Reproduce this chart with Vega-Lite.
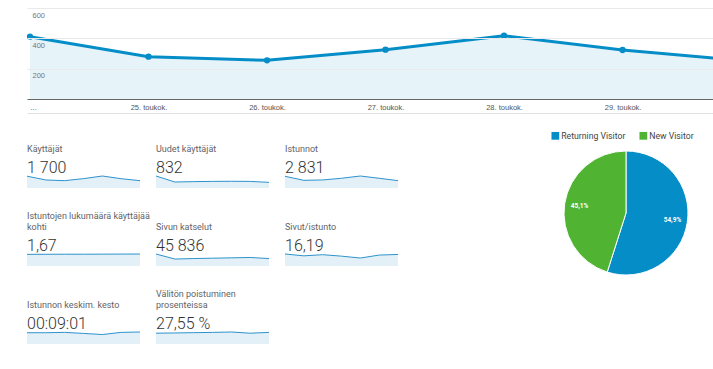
{
  "$schema": "https://vega.github.io/schema/vega-lite/v6.json",
  "padding": {"left": 25, "top": 8, "right": 0, "bottom": 0},
  "background": "#ffffff",
  "config": {
    "view": {"stroke": null},
    "font": "Roboto",
    "title": {"anchor": "start", "frame": "group", "font": "Roboto", "fontSize": 9, "fontWeight": "normal", "color": "#5f6368", "lineHeight": 11.5, "offset": -2, "subtitleFont": "Roboto", "subtitleFontSize": 16, "subtitleFontWeight": 300, "subtitleColor": "#333333", "subtitlePadding": 6}
  },
  "datasets": {
    "spark": [
      {"m": "users", "d": 24, "v": 411}, {"m": "users", "d": 25, "v": 279}, {"m": "users", "d": 26, "v": 255}, {"m": "users", "d": 27, "v": 325}, {"m": "users", "d": 28, "v": 417}, {"m": "users", "d": 29, "v": 323}, {"m": "users", "d": 30, "v": 255},
      {"m": "newusers", "d": 24, "v": 200}, {"m": "newusers", "d": 25, "v": 100}, {"m": "newusers", "d": 26, "v": 106}, {"m": "newusers", "d": 27, "v": 110}, {"m": "newusers", "d": 28, "v": 112}, {"m": "newusers", "d": 29, "v": 110}, {"m": "newusers", "d": 30, "v": 94},
      {"m": "sessions", "d": 24, "v": 500}, {"m": "sessions", "d": 25, "v": 328}, {"m": "sessions", "d": 26, "v": 344}, {"m": "sessions", "d": 27, "v": 416}, {"m": "sessions", "d": 28, "v": 513}, {"m": "sessions", "d": 29, "v": 416}, {"m": "sessions", "d": 30, "v": 314},
      {"m": "spu", "d": 24, "v": 1.64}, {"m": "spu", "d": 25, "v": 1.65}, {"m": "spu", "d": 26, "v": 1.66}, {"m": "spu", "d": 27, "v": 1.66}, {"m": "spu", "d": 28, "v": 1.67}, {"m": "spu", "d": 29, "v": 1.68}, {"m": "spu", "d": 30, "v": 1.69},
      {"m": "pageviews", "d": 24, "v": 9400}, {"m": "pageviews", "d": 25, "v": 5450}, {"m": "pageviews", "d": 26, "v": 5830}, {"m": "pageviews", "d": 27, "v": 6110}, {"m": "pageviews", "d": 28, "v": 6390}, {"m": "pageviews", "d": 29, "v": 6670}, {"m": "pageviews", "d": 30, "v": 5830},
      {"m": "pps", "d": 24, "v": 19}, {"m": "pps", "d": 25, "v": 16.1}, {"m": "pps", "d": 26, "v": 17.9}, {"m": "pps", "d": 27, "v": 15.6}, {"m": "pps", "d": 28, "v": 12.6}, {"m": "pps", "d": 29, "v": 17.3}, {"m": "pps", "d": 30, "v": 18.3},
      {"m": "dur", "d": 24, "v": 526}, {"m": "dur", "d": 25, "v": 526}, {"m": "dur", "d": 26, "v": 543}, {"m": "dur", "d": 27, "v": 493}, {"m": "dur", "d": 28, "v": 442}, {"m": "dur", "d": 29, "v": 543}, {"m": "dur", "d": 30, "v": 560},
      {"m": "bounce", "d": 24, "v": 27}, {"m": "bounce", "d": 25, "v": 27.6}, {"m": "bounce", "d": 26, "v": 28.3}, {"m": "bounce", "d": 27, "v": 29}, {"m": "bounce", "d": 28, "v": 30}, {"m": "bounce", "d": 29, "v": 27}, {"m": "bounce", "d": 30, "v": 29}
    ],
    "visitors": [
      {"type": "Returning Visitor", "share": 54.9, "label": "54,9%"},
      {"type": "New Visitor", "share": 45.1, "label": "45,1%"}
    ]
  },
  "spacing": 18,
  "resolve": {"scale": {"color": "independent"}, "legend": {"color": "independent"}},
  "vconcat": [
    {
      "width": 688, "height": 91,
      "data": {"name": "spark"},
      "transform": [{"filter": "datum.m == 'users'"}],
      "encoding": {
        "y": {"field": "v", "type": "quantitative", "scale": {"domain": [0, 600], "nice": false},
          "axis": {"values": [200, 400, 600], "title": null, "zindex": 1, "grid": true, "gridColor": "#e9e9e9", "domain": false, "ticks": false, "tickSize": 0, "labelOverlap": false, "labelAlign": "left", "labelBaseline": "top", "labelPadding": -5, "labelOffset": 3, "labelColor": "#777777", "labelFont": "Liberation Sans", "labelFontSize": 7.5}}
      },
      "resolve": {"axis": {"x": "independent"}},
      "layer": [
        {"mark": {"type": "area", "color": "#058dc7", "fillOpacity": 0.1, "clip": true},
          "encoding": {"x": {"field": "d", "type": "quantitative", "scale": {"domain": [23.975, 29.78], "nice": false, "zero": false},
            "axis": {"values": [24, 25, 26, 27, 28, 29], "title": null, "grid": false, "ticks": false, "tickSize": 0, "domainColor": "#666666", "labelExpr": "datum.value == 24 ? '...' : datum.value + '. toukok.'", "labelFlush": 5, "labelPadding": 4, "labelColor": "#555555", "labelFont": "Liberation Sans", "labelFontSize": 7.5}}}},
        {"mark": {"type": "line", "color": "#058dc7", "strokeWidth": 3, "clip": true},
          "encoding": {"x": {"field": "d", "type": "quantitative", "axis": null}}},
        {"mark": {"type": "point", "filled": true, "opacity": 1, "size": 40, "color": "#058dc7", "clip": true},
          "encoding": {"x": {"field": "d", "type": "quantitative", "axis": {"orient": "bottom", "offset": 14, "labels": false, "ticks": false, "grid": false, "title": null, "domainColor": "#e0e0e0"}}}}
      ]
    },
    {
      "spacing": 151,
      "resolve": {"scale": {"color": "independent"}, "legend": {"color": "independent"}},
      "hconcat": [
        {
          "columns": 3, "bounds": "flush", "spacing": {"row": 66, "column": 16},
          "concat": [
            {"title": {"text": "Käyttäjät", "subtitle": "1 700"}, "width": 113, "height": 12, "data": {"name": "spark"}, "transform": [{"filter": "datum.m == 'users'"}],
              "encoding": {"x": {"field": "d", "type": "quantitative", "axis": null, "scale": {"domain": [24, 30]}}, "y": {"field": "v", "type": "quantitative", "axis": null, "scale": {"zero": true, "nice": false}}},
              "layer": [{"mark": {"type": "area", "color": "#e3f0f8"}}, {"mark": {"type": "line", "color": "#2d93cc", "strokeWidth": 1}}]},
            {"title": {"text": "Uudet käyttäjät", "subtitle": "832"}, "width": 113, "height": 12, "data": {"name": "spark"}, "transform": [{"filter": "datum.m == 'newusers'"}],
              "encoding": {"x": {"field": "d", "type": "quantitative", "axis": null, "scale": {"domain": [24, 30]}}, "y": {"field": "v", "type": "quantitative", "axis": null, "scale": {"zero": true, "nice": false}}},
              "layer": [{"mark": {"type": "area", "color": "#e3f0f8"}}, {"mark": {"type": "line", "color": "#2d93cc", "strokeWidth": 1}}]},
            {"title": {"text": "Istunnot", "subtitle": "2 831"}, "width": 113, "height": 12, "data": {"name": "spark"}, "transform": [{"filter": "datum.m == 'sessions'"}],
              "encoding": {"x": {"field": "d", "type": "quantitative", "axis": null, "scale": {"domain": [24, 30]}}, "y": {"field": "v", "type": "quantitative", "axis": null, "scale": {"zero": true, "nice": false}}},
              "layer": [{"mark": {"type": "area", "color": "#e3f0f8"}}, {"mark": {"type": "line", "color": "#2d93cc", "strokeWidth": 1}}]},
            {"title": {"text": ["Istuntojen lukumäärä käyttäjää", "kohti"], "subtitle": "1,67"}, "width": 113, "height": 12, "data": {"name": "spark"}, "transform": [{"filter": "datum.m == 'spu'"}],
              "encoding": {"x": {"field": "d", "type": "quantitative", "axis": null, "scale": {"domain": [24, 30]}}, "y": {"field": "v", "type": "quantitative", "axis": null, "scale": {"zero": true, "nice": false}}},
              "layer": [{"mark": {"type": "area", "color": "#e3f0f8"}}, {"mark": {"type": "line", "color": "#2d93cc", "strokeWidth": 1}}]},
            {"title": {"text": "Sivun katselut", "subtitle": "45 836"}, "width": 113, "height": 12, "data": {"name": "spark"}, "transform": [{"filter": "datum.m == 'pageviews'"}],
              "encoding": {"x": {"field": "d", "type": "quantitative", "axis": null, "scale": {"domain": [24, 30]}}, "y": {"field": "v", "type": "quantitative", "axis": null, "scale": {"zero": true, "nice": false}}},
              "layer": [{"mark": {"type": "area", "color": "#e3f0f8"}}, {"mark": {"type": "line", "color": "#2d93cc", "strokeWidth": 1}}]},
            {"title": {"text": "Sivut/istunto", "subtitle": "16,19"}, "width": 113, "height": 12, "data": {"name": "spark"}, "transform": [{"filter": "datum.m == 'pps'"}],
              "encoding": {"x": {"field": "d", "type": "quantitative", "axis": null, "scale": {"domain": [24, 30]}}, "y": {"field": "v", "type": "quantitative", "axis": null, "scale": {"zero": true, "nice": false}}},
              "layer": [{"mark": {"type": "area", "color": "#e3f0f8"}}, {"mark": {"type": "line", "color": "#2d93cc", "strokeWidth": 1}}]},
            {"title": {"text": "Istunnon keskim. kesto", "subtitle": "00:09:01"}, "width": 113, "height": 12, "data": {"name": "spark"}, "transform": [{"filter": "datum.m == 'dur'"}],
              "encoding": {"x": {"field": "d", "type": "quantitative", "axis": null, "scale": {"domain": [24, 30]}}, "y": {"field": "v", "type": "quantitative", "axis": null, "scale": {"zero": true, "nice": false}}},
              "layer": [{"mark": {"type": "area", "color": "#e3f0f8"}}, {"mark": {"type": "line", "color": "#2d93cc", "strokeWidth": 1}}]},
            {"title": {"text": ["Välitön poistuminen", "prosenteissa"], "subtitle": "27,55 %"}, "width": 113, "height": 12, "data": {"name": "spark"}, "transform": [{"filter": "datum.m == 'bounce'"}],
              "encoding": {"x": {"field": "d", "type": "quantitative", "axis": null, "scale": {"domain": [24, 30]}}, "y": {"field": "v", "type": "quantitative", "axis": null, "scale": {"zero": true, "nice": false}}},
              "layer": [{"mark": {"type": "area", "color": "#e3f0f8"}}, {"mark": {"type": "line", "color": "#2d93cc", "strokeWidth": 1}}]}
          ]
        },
        {
          "width": 150, "height": 74,
          "data": {"name": "visitors"},
          "encoding": {
            "theta": {"field": "share", "type": "quantitative", "stack": true},
            "order": {"field": "share", "type": "quantitative", "sort": "descending"}
          },
          "layer": [
            {"mark": {"type": "arc", "outerRadius": 62, "stroke": "#ffffff", "strokeWidth": 1},
              "encoding": {"color": {"field": "type", "type": "nominal", "scale": {"domain": ["Returning Visitor", "New Visitor"], "range": ["#058dc7", "#50b432"]},
                "legend": {"orient": "top", "direction": "horizontal", "title": null, "symbolType": "square", "symbolSize": 60, "symbolStrokeWidth": 0, "labelFont": "Roboto", "labelFontSize": 8.7, "labelColor": "#444444", "columnPadding": 13, "labelOffset": 1.5, "offset": 35, "padding": 0}}}},
            {"mark": {"type": "text", "radius": 47, "color": "#ffffff", "font": "Roboto", "fontSize": 6.5, "fontWeight": "bold"},
              "encoding": {"text": {"field": "label"}, "detail": {"field": "type"}}}
          ]
        }
      ]
    }
  ]
}
